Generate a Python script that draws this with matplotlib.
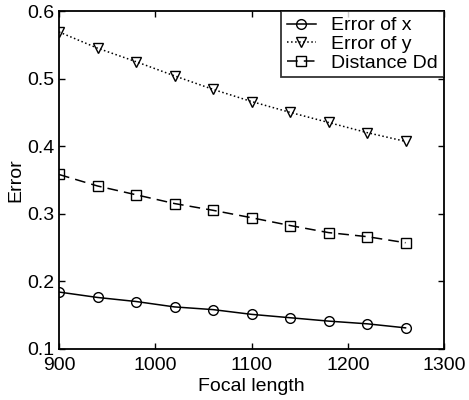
import matplotlib
matplotlib.use("Agg")
import matplotlib.pyplot as plt

focal = [900, 940, 980, 1020, 1060, 1100, 1140, 1180, 1220, 1260]
err_x = [0.184, 0.176, 0.170, 0.162, 0.158, 0.151, 0.146, 0.141, 0.137, 0.131]
err_y = [0.569, 0.545, 0.525, 0.504, 0.484, 0.466, 0.450, 0.435, 0.420, 0.407]
dist_dd = [0.358, 0.341, 0.328, 0.315, 0.305, 0.294, 0.2825, 0.272, 0.266, 0.257]
xticks = [900, 1000, 1100, 1200, 1300]
yticks = [0.1, 0.2, 0.3, 0.4, 0.5, 0.6]

plt.rcParams['font.family'] = ['Liberation Sans', 'DejaVu Sans']
fs = 14

fig = plt.figure(figsize=(4.69, 4.0), dpi=100)
ax = fig.add_axes([0.1258, 0.128, 0.821, 0.8445])

mk = dict(color='black', markerfacecolor='none', markeredgecolor='black',
          markersize=7, markeredgewidth=1.0, linewidth=1.1)
ax.plot(focal, err_x, '-', marker='o', label='Error of x', **mk)
ax.plot(focal, err_y, ':', marker='v', label='Error of y', **mk)
ax.plot(focal, dist_dd, '--', marker='s', label='Distance Dd', dashes=(7, 4), **mk)

ax.set_xlim(900, 1300)
ax.set_ylim(0.1, 0.6)
ax.set_xticks(xticks)
ax.set_yticks(yticks)
ax.set_xticklabels([str(v) for v in xticks], fontsize=fs)
ax.set_yticklabels([f"{v:.1f}" for v in yticks], fontsize=fs)
ax.tick_params(direction='in', top=True, right=True, length=4, width=1)
ax.tick_params(axis='x', pad=6)
ax.tick_params(axis='y', pad=3)
for s in ax.spines.values():
    s.set_linewidth(1.3)

ax.set_xlabel('Focal length', fontsize=fs, labelpad=3)
ax.set_ylabel('Error', fontsize=fs, labelpad=2)

leg = ax.legend(loc='upper right', fontsize=fs, frameon=True, fancybox=False,
                edgecolor='black', handlelength=1.5, handletextpad=0.8,
                borderaxespad=0.0, labelspacing=0.05, borderpad=0.3)
leg.get_frame().set_linewidth(1.3)

fig.savefig('out.png', dpi=100)
